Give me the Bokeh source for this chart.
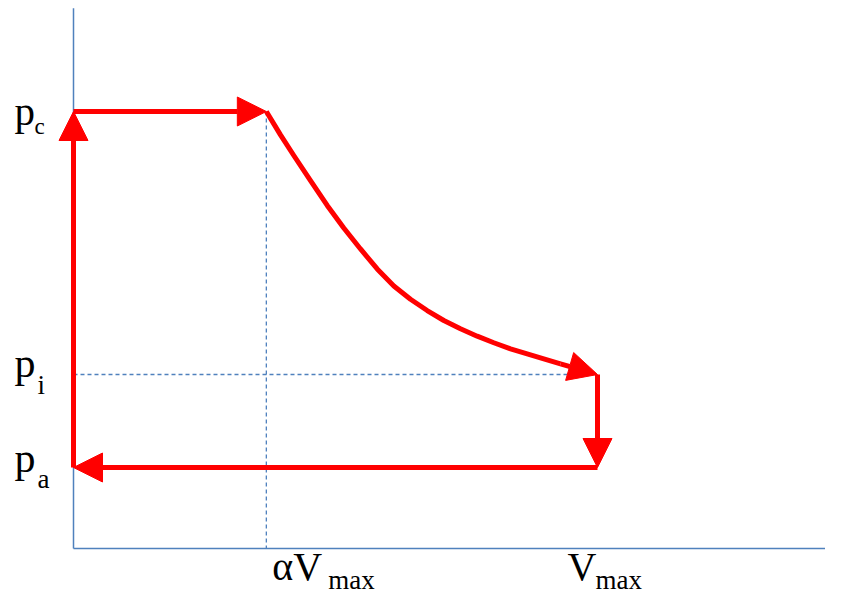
from bokeh.plotting import figure
from bokeh.models import Range1d, Arrow, NormalHead, ColumnDataSource
from bokeh.core.properties import value
from bokeh.embed import file_html
from bokeh.resources import INLINE

# ---- data (V in units of Vmax, p in units of pa) ----
V_ALPHA = 0.368          # alpha * Vmax
V_MAX = 1.0
P_A = 1.0
P_I = 2.148
P_C = 5.395
V_AXIS_END = 1.46
P_AXIS_END = 6.67

# expansion curve from (alpha*Vmax, pc) towards (Vmax, pi)
curve_v = [0.368, 0.3950, 0.4204, 0.4523, 0.4842, 0.5158, 0.5477, 0.5796, 0.6113,
           0.6431, 0.6750, 0.7067, 0.7385, 0.7704, 0.8021, 0.8340, 0.8658, 0.8975, 0.9294]
curve_p = [5.395, 5.107, 4.852, 4.543, 4.235, 3.957, 3.698, 3.451, 3.241,
           3.077, 2.938, 2.815, 2.712, 2.621, 2.540, 2.465, 2.404, 2.342, 2.280]

# cycle arrows (start -> end)
arr_x0 = [0.0, 0.0, curve_v[-1], V_MAX, V_MAX]
arr_y0 = [P_A, P_C, curve_p[-1], P_I, P_A]
arr_x1 = [0.0, V_ALPHA, V_MAX, V_MAX, 0.0]
arr_y1 = [P_C, P_C, P_I, P_A, P_A]

# axis tick labels
y_label_main = ["p", "p", "p"]
y_label_sub = ["c", "i", "a"]
y_label_pos = [P_C, P_I, P_A]
x_label_main = ["\u03b1V", "V"]
x_label_sub = ["max", "max"]
x_label_pos = [V_ALPHA, V_MAX]

# ---- layout (pixel scale of the drawing) ----
W, H = 825, 597
PXV = 524.0   # px per unit V
PXP = 81.0    # px per unit p
OX, OY = 73.0, 548.0   # pixel position of the origin inside the figure
x0 = -OX / PXV
x1 = (W - OX) / PXV
y1 = OY / PXP
y0 = (OY - H) / PXP

p = figure(width=W, height=H, output_backend="svg", toolbar_location=None,
           x_range=Range1d(x0, x1), y_range=Range1d(y0, y1), min_border=0)
p.xaxis.visible = False
p.yaxis.visible = False
p.xgrid.visible = False
p.ygrid.visible = False
p.outline_line_color = None
p.background_fill_color = "white"
p.border_fill_color = "white"

BLUE = "#4F81BD"
RED = "#FF0000"

# axes
p.segment(x0=[0, 0], y0=[0, 0], x1=[V_AXIS_END, 0], y1=[0, P_AXIS_END],
          line_color=BLUE, line_width=1.5)

# dashed guides
p.segment(x0=[V_ALPHA, 0.0], y0=[P_C, P_I], x1=[V_ALPHA, V_MAX], y1=[0, P_I],
          line_color=BLUE, line_width=1.3, line_dash="4 3")

# curve
p.line(curve_v, curve_p, line_color=RED, line_width=5, line_join="round")

# arrows
src = ColumnDataSource(dict(x0=arr_x0, y0=arr_y0, x1=arr_x1, y1=arr_y1))
arrows = Arrow(source=src, x_start="x0", y_start="y0", x_end="x1", y_end="y1",
               line_color=RED, line_width=5,
               end=NormalHead(size=29, fill_color=RED, line_color=RED, line_width=1))
p.add_layout(arrows)

FONT = value("Liberation Serif")
SHIFT = 0.4   # empirical baseline correction, in em

def dx(px):
    return px / PXV

def dy(px):
    return -px / PXP

def put(x, y_px_from_origin_level, level, txt, size):
    # y given as pixel offset (downwards) from a data level, corrected for baseline
    y = level + dy(y_px_from_origin_level - SHIFT * size)
    p.text(x=[x], y=[y], text=[txt], text_font=FONT, text_font_size=f"{size}px",
           text_color="black", text_align="left", text_baseline="alphabetic")

# y labels: "p" then subscript (offsets in px from the labelled level)
y_main_dx = [-59, -59, -59]
y_main_dy = [16, 5, 7]
y_sub_dx = [-39, -36, -36]
y_sub_dy = [24, 21, 22]
y_main_size = [41, 42, 42]
y_sub_size = [23, 27, 27]
for i in range(3):
    put(dx(y_main_dx[i]), y_main_dy[i], y_label_pos[i], y_label_main[i], y_main_size[i])
    put(dx(y_sub_dx[i]), y_sub_dy[i], y_label_pos[i], y_label_sub[i], y_sub_size[i])

# x labels (baselines in px below the V axis)
x_main_dx = [6, -30]
x_sub_dx = [62, -2]
main_base = 34
sub_base = 42
for i in range(2):
    put(x_label_pos[i] + dx(x_main_dx[i]), main_base, 0.0, x_label_main[i], 40)
    put(x_label_pos[i] + dx(x_sub_dx[i]), sub_base, 0.0, x_label_sub[i], 27)

open("out.html", "w").write(file_html(p, INLINE))
